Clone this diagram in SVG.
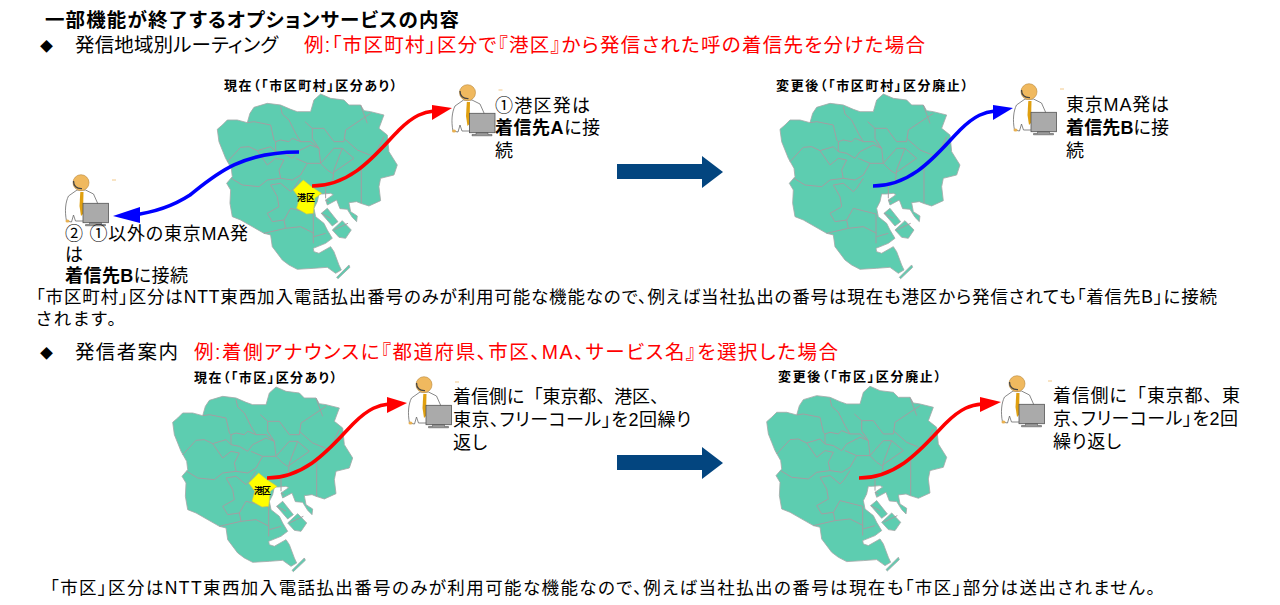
<svg xmlns="http://www.w3.org/2000/svg" xmlns:xlink="http://www.w3.org/1999/xlink" width="1280" height="605" viewBox="0 0 1280 605">
<style>
text{font-family:"Liberation Sans","Noto Sans CJK JP",sans-serif;fill:#000;font-size:17px;font-feature-settings:"palt";white-space:pre}
.h{font-size:19.500px}
.t{font-size:18px}
.p{font-size:17.500px}
.m{font-size:13px;font-weight:bold}
.b{font-weight:bold}
.r{fill:#f00}
.np{font-feature-settings:normal}
.land{fill:#5dcdb0;stroke:#a3aaa8;stroke-width:2.5;stroke-linejoin:round}
.ward{fill:none;stroke:#a39ea2;stroke-width:3;stroke-linejoin:round}
.yel{fill:#ffff00;stroke:#c8c850;stroke-width:2}
.red{fill:none;stroke:#f00;stroke-width:3.600}
.blue{fill:none;stroke:#00f;stroke-width:3.600}
.nav{fill:#03457f}
</style>
<defs>
<g id="map">
<path class="land" d="M180,178L195,165L210,150L240,150L270,158L278,130L290,112L330,100L370,105L400,118L420,125L460,125L470,90L490,72L520,85L560,90L575,105L610,105L620,122L640,125L680,135L665,175L690,195L695,245L720,285L710,315L670,325L665,350L670,392L635,408L610,400L598,395L575,398L580,425L600,438L598,455L585,442L570,418L548,416L538,390L510,405L505,390L528,374L520,370L498,372L485,372L480,395L470,415L475,440L500,460L510,480L525,505L505,520L468,535L470,545L485,550L520,530L530,545L545,585L552,600L535,610L510,592L470,595L420,598L395,585L375,570L345,530L340,495L320,490L250,450L225,440L218,400L220,360L208,340L225,320L222,295L205,265L195,240L185,215Z"/>
<path class="land" d="M525,480L555,452L582,480L565,505L545,502Z"/>
<path class="land" d="M492,430L510,415L542,455L525,468Z"/>
<path class="land" d="M538,622L575,585L578,592L542,626Z"/>
<path class="ward" d="M270,158L290,155L340,165L350,210L355,215M370,110L375,132L395,150L415,190L430,215M355,215L370,210L395,215L405,205L430,215L460,215L485,235M355,215L355,245L380,250L405,265L420,245L460,225L485,235L490,280L450,280L415,265M443,155L465,175L465,205L485,235M465,175L500,175L530,215L560,215L565,180L610,150L640,130M610,105L630,160M560,205L600,240L650,260L680,200M210,275L250,232L275,230L300,242L340,230L355,245M300,242L330,285L355,265L380,270L365,300L370,325L405,330L430,315L450,280M222,325L255,345L305,350L330,330L370,325M490,280L530,235L555,235L530,300L525,345M490,280L510,300L525,310L590,265L555,235M612,290L612,400M505,345L505,385M430,325L410,355L400,365L370,340L340,345L360,380L365,410L330,430L345,455L380,450L400,415L468,432L468,520M380,450L385,475L320,490M385,475L430,470L470,490M470,500L505,490M492,430L520,445M530,480L572,460M505,390L515,395"/>
</g>
<path id="yw" class="yel" d="M408,360L438,330L463,350L493,370L473,385L468,430L448,432L418,415L426,385Z"/>
<g id="person">
<path d="M58.500,15H62.500" stroke="#f2c98a" stroke-width="1" fill="none"/>
<path d="M13,56C11,46 12,37 15,31L23.500,25H32L40,29L44,38V56H22L20,50L18,57Z" fill="#fff" stroke="#6a6a6a" stroke-width=".8"/>
<circle cx="27.500" cy="17.700" r="8" fill="#f0b95f" stroke="#b88a40" stroke-width=".6"/>
<path d="M20,16C20,21 23,24 28.500,23.700" fill="none" stroke="#444" stroke-width="1.300"/>
<path d="M26.800,27L30,27L29.500,49L27.500,51L26,41Z" fill="#e0a010"/>
<ellipse cx="14" cy="56" rx="2" ry="1.500" fill="#e8b050"/>
<rect x="29.500" y="38.300" width="25.500" height="19.400" fill="#aaa" stroke="#555" stroke-width=".8"/>
<path d="M36,57.700V59.500H32V60.800H52V59.500H48V57.700Z" fill="#999" stroke="#444" stroke-width=".5"/>
</g>
</defs>

<text id="title" class="h b" x="45" y="27" textLength="414">一部機能が終了するオプションサービスの内容</text>
<g id="section1">
<text x="40" y="51" style="font-size:13px">◆</text>
<text class="h" x="75" y="52" textLength="203">発信地域別ルーティング</text>
<text class="h r" x="304" y="52" textLength="621">例:「市区町村」区分で『港区』から発信された呼の着信先を分けた場合</text>
</g>

<g id="map1">
<text class="m" x="224" y="90" textLength="173">現在（「市区町村」区分あり）</text>
<g transform="translate(157.300,70) scale(.3333)"><use xlink:href="#map" href="#map"/><use xlink:href="#yw" href="#yw"/></g>
<text x="297" y="201" class="b" style="font-size:9px" textLength="18">港区</text>
</g>
<g id="map3">
<text class="m" x="776" y="90" textLength="192">変更後（「市区町村」区分廃止）</text>
<g transform="translate(720,70) scale(.3333)"><use xlink:href="#map" href="#map"/></g>
</g>
<g id="map2">
<text class="m" x="194" y="382" textLength="143">現在（「市区」区分あり）</text>
<g transform="translate(112.700,363) scale(.3333)"><use xlink:href="#map" href="#map"/><use xlink:href="#yw" href="#yw"/></g>
<text x="254" y="494" class="b" style="font-size:9px" textLength="17">港区</text>
</g>
<g id="map4">
<text class="m" x="778" y="381" textLength="163">変更後（「市区」区分廃止）</text>
<g transform="translate(706.700,362.300) scale(.3333)"><use xlink:href="#map" href="#map"/></g>
</g>

<g id="person1"><use xlink:href="#person" href="#person" transform="translate(440,75)"/></g>
<g id="person2"><use xlink:href="#person" href="#person" transform="translate(53.500,165)"/></g>
<g id="person3"><use xlink:href="#person" href="#person" transform="translate(1001.500,74)"/></g>
<g id="person4"><use xlink:href="#person" href="#person" transform="translate(396.500,367)"/></g>
<g id="person5"><use xlink:href="#person" href="#person" transform="translate(989.500,366)"/></g>

<g id="connectors">
<path class="red" d="M312,186C354,186 379,150 399,130C414,115 424,112 434,111"/>
<polygon points="452,108 432,105 432,120" fill="#f00"/>
<path class="blue" d="M299,152C240,152 215,175 190,195C170,208 150,213 132,215"/>
<polygon points="113,216 140,207 140,223" fill="#00f"/>
<path class="blue" d="M873,186C915,186 940,150 960,130C975,115 985,112 995,111"/>
<polygon points="1013,108 993,105 993,120" fill="#00f"/>
<path class="red" d="M267,478C309,478 334,443 354,423C369,408 379,405 389,404"/>
<polygon points="407,403 387,397 387,413" fill="#f00"/>
<path class="red" d="M859,478C901,478 926,443 946,423C961,408 971,405 982,404"/>
<polygon points="1001,402 980,397 980,412" fill="#f00"/>
<polygon class="nav" points="617,164 702,164 702,156 723,172 702,188 702,179 617,179"/>
<polygon class="nav" points="617,455 702,455 702,447 723,463 702,479 702,470 617,470"/>
</g>

<g id="label1">
<text x="495" y="112" class="t" textLength="95">①港区発は</text>
<text x="495" y="134" class="t" textLength="105"><tspan class="b">着信先A</tspan>に接</text>
<text x="495" y="157" class="t">続</text>
</g>
<g id="label2">
<text x="65" y="240" class="t" textLength="183">② ①以外の東京MA発</text>
<text x="65" y="261" class="t">は</text>
<text x="65" y="282" class="t" textLength="123"><tspan class="b">着信先B</tspan>に接続</text>
</g>
<g id="label3">
<text x="1066" y="111" class="t" textLength="103">東京MA発は</text>
<text x="1066" y="134" class="t" textLength="103"><tspan class="b">着信先B</tspan>に接</text>
<text x="1066" y="157" class="t">続</text>
</g>
<text x="36" y="303" class="p" textLength="1181">「市区町村」区分はNTT東西加入電話払出番号のみが利用可能な機能なので、例えば当社払出の番号は現在も港区から発信されても「着信先B」に接続</text>
<text x="36" y="325" class="p" textLength="80">されます。</text>
<g id="section2">
<text x="40" y="358" style="font-size:13px">◆</text>
<text class="h" x="75" y="359" textLength="103">発信者案内</text>
<text class="h r" x="194" y="359" textLength="644">例:着側アナウンスに『都道府県、市区、MA、サービス名』を選択した場合</text>
</g>
<g id="label4">
<text x="453" y="403" class="t np" textLength="215">着信側に「東京都、港区、</text>
<text x="453" y="426" class="t" textLength="238">東京、フリーコール」を2回繰り</text>
<text x="453" y="449" class="t" textLength="34">返し</text>
</g>
<g id="label5">
<text x="1053" y="402" class="t np" textLength="187">着信側に「東京都、東</text>
<text x="1053" y="425" class="t" textLength="185">京、フリーコール」を2回</text>
<text x="1053" y="448" class="t" textLength="68">繰り返し</text>
</g>
<text x="50" y="594" class="p" textLength="1105">「市区」区分はNTT東西加入電話払出番号のみが利用可能な機能なので、例えば当社払出の番号は現在も「市区」部分は送出されません。</text>
</svg>
